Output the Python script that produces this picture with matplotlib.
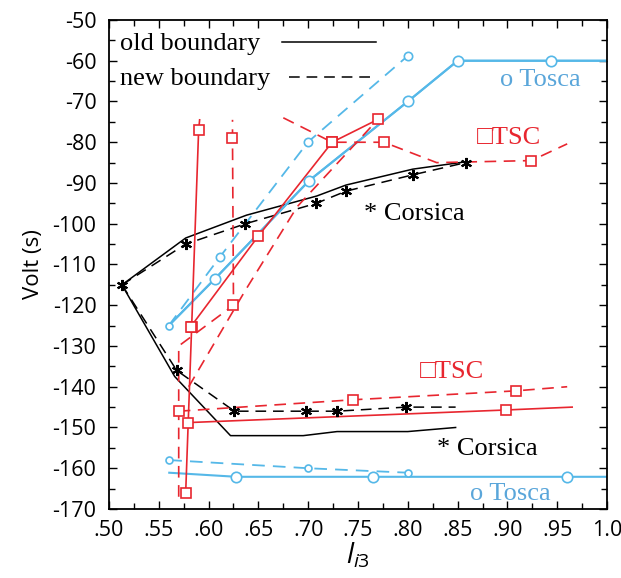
import matplotlib
matplotlib.use('Agg')
import matplotlib.pyplot as plt
from matplotlib.lines import Line2D
from matplotlib.ticker import MultipleLocator, FuncFormatter

plt.rcParams['font.family'] = ['Open Sans', 'DejaVu Sans']
plt.rcParams['axes.unicode_minus'] = False
plt.rcParams['mathtext.fontset'] = 'custom'
plt.rcParams['mathtext.it'] = 'Open Sans:italic'
plt.rcParams['mathtext.rm'] = 'Open Sans'

# ---- Corsica (black) ----
cor_up_old_x = [0.513, 0.577, 0.638, 0.7085, 0.738, 0.805, 0.858]
cor_up_old_y = [-115, -103.5, -97.9, -93.2, -90.5, -86.6, -84.8]
cor_up_new_x = [0.513, 0.577, 0.637, 0.708, 0.738, 0.805, 0.858]
cor_up_new_y = [-115, -105, -100, -95, -92, -88, -85]
cor_lo_old_x = [0.513, 0.566, 0.622, 0.695, 0.729, 0.80, 0.848]
cor_lo_old_y = [-115, -137.5, -152, -152, -151, -151, -150]
cor_lo_new_x = [0.513, 0.568, 0.626, 0.698, 0.729, 0.798, 0.848]
cor_lo_new_y = [-115, -136, -146, -146, -146, -145, -145]

# ---- Tosca (blue) ----
tos_up_old_x = [0.56, 0.606, 0.701, 0.80, 0.85, 0.944, 1.0]
tos_up_old_y = [-125, -113.6, -89.4, -70, -60, -60, -60]
tos_up_new_x = [0.56, 0.6115, 0.700, 0.80]
tos_up_new_y = [-125, -108.1, -79.9, -58.8]
tos_lo_old_x = [0.5605, 0.628, 0.765, 0.9595, 1.0]
tos_lo_old_y = [-161.1, -162.1, -162.1, -162.1, -162.1]
tos_lo_new_x = [0.5605, 0.700, 0.8005]
tos_lo_new_y = [-158, -160, -161.1]

# ---- TSC (red) ----
tsc_side_old_x = [0.591, 0.590, 0.583, 0.577]
tsc_side_old_y = [-74.5, -77, -125.3, -166]
tsc_up_old_x = [0.582, 0.650, 0.724, 0.770]
tsc_up_old_y = [-125.3, -103, -80, -74.4]
tsc_lo_old_x = [0.579, 0.899, 0.965]
tsc_lo_old_y = [-148.8, -145.7, -145]
tsc_side_new_x = [0.570, 0.570, 0.625, 0.624, 0.624]
tsc_side_new_y = [-167, -130, -120, -79, -74.5]
tsc_up_new_x = [0.675, 0.724, 0.776, 0.829, 0.924, 0.96]
tsc_up_new_y = [-74, -80, -80, -85, -84.5, -80.4]
tsc_up_new2_x = [0.580, 0.637, 0.689, 0.770]
tsc_up_new2_y = [-140, -116.3, -95.8, -74.4]
tsc_lo_new_x = [0.570, 0.745, 0.909, 0.96]
tsc_lo_new_y = [-146, -143.2, -141, -140]

BLUE = '#55b8e8'
BLUE_TXT = '#5aa6da'
RED = '#e8262f'
DASH = (0, (7, 4.5))
SERIF = ['Liberation Serif', 'DejaVu Sans']

fig = plt.figure(figsize=(6.21, 5.78), dpi=100)
ax = fig.add_axes([0.1755, 0.1194, 0.802, 0.846])


def draw(x, y, color, ls, lw, idx=(), marker=None, ms=7, mew=1.2, fill='white'):
    ax.plot(x, y, color=color, ls=ls, lw=lw, zorder=2)
    if marker is not None and len(idx):
        ax.plot([x[i] for i in idx], [y[i] for i in idx], ls='none', marker=marker,
                ms=ms, mfc=fill, mec=color, mew=mew, zorder=3)


# black corsica
draw(cor_up_old_x, cor_up_old_y, 'black', '-', 1.1)
draw(cor_lo_old_x, cor_lo_old_y, 'black', '-', 1.1)
draw(cor_up_new_x, cor_up_new_y, 'black', DASH, 1.1, range(7), (6, 2, 0), 8, 1.5, 'black')
draw(cor_lo_new_x, cor_lo_new_y, 'black', DASH, 1.1, range(1, 6), (6, 2, 0), 8, 1.5, 'black')

# blue tosca
draw(tos_up_old_x, tos_up_old_y, BLUE, '-', 1.5, [1, 2, 3, 4, 5], 'o', 7.5)
draw(tos_up_old_x, tos_up_old_y, BLUE, '-', 1.5, [0], 'o', 5)
draw(tos_up_new_x, tos_up_new_y, BLUE, DASH, 1.3, [1, 2, 3], 'o', 6)
draw(tos_lo_old_x, tos_lo_old_y, BLUE, '-', 1.5, [1, 2, 3], 'o', 7.5)
draw(tos_lo_new_x, tos_lo_new_y, BLUE, DASH, 1.3, [0, 1, 2], 'o', 5)

# red tsc
draw(tsc_side_old_x, tsc_side_old_y, RED, '-', 1.2, [1, 2, 3], 's', 7)
draw(tsc_up_old_x, tsc_up_old_y, RED, '-', 1.2, [0, 1, 2, 3], 's', 7)
draw(tsc_lo_old_x, tsc_lo_old_y, RED, '-', 1.2, [0, 1], 's', 7)
draw(tsc_side_new_x, tsc_side_new_y, RED, DASH, 1.2, [2, 3], 's', 7)
draw(tsc_up_new_x, tsc_up_new_y, RED, DASH, 1.2, [1, 2, 4], 's', 7)
draw(tsc_up_new2_x, tsc_up_new2_y, RED, DASH, 1.2)
draw(tsc_lo_new_x, tsc_lo_new_y, RED, DASH, 1.2, [0, 1, 2], 's', 7)

# labels on the curves
ax.text(0.8926, -64.7, 'o Tosca', color=BLUE_TXT, fontsize=19, family=SERIF, va='center')
ax.text(0.8625, -166.2, 'o Tosca', color=BLUE_TXT, fontsize=19, family=SERIF, va='center')
ax.text(0.869, -79, '\u25a1TSC', color=RED, fontsize=19, family=SERIF, va='center')
ax.text(0.812, -136.3, '\u25a1TSC', color=RED, fontsize=19, family=SERIF, va='center')
ax.text(0.756, -97.5, '* Corsica', color='black', fontsize=19, family=SERIF, va='center')
ax.text(0.829, -155.2, '* Corsica', color='black', fontsize=19, family=SERIF, va='center')

# legend, drawn by hand: text first, line sample after
ax.text(0.022, 0.939, 'old boundary', transform=ax.transAxes, fontsize=19,
        family=SERIF, va='baseline')
ax.text(0.022, 0.867, 'new boundary', transform=ax.transAxes, fontsize=19,
        family=SERIF, va='baseline')
ax.add_line(Line2D([0.347, 0.536], [0.954, 0.954], transform=ax.transAxes,
                   color='black', lw=1.1))
ax.add_line(Line2D([0.361, 0.528], [0.883, 0.883], transform=ax.transAxes,
                   color='black', lw=1.1, ls=DASH))

ax.set_xlim(0.5, 1.0)
ax.set_ylim(-170, -50)
ax.xaxis.set_major_locator(MultipleLocator(0.05))
ax.xaxis.set_minor_locator(MultipleLocator(0.025))
ax.yaxis.set_major_locator(MultipleLocator(10))
ax.yaxis.set_minor_locator(MultipleLocator(5))
ax.xaxis.set_major_formatter(FuncFormatter(lambda v, p: '1.0' if abs(v - 1) < 1e-6 else f'{v:.2f}'[1:]))
ax.yaxis.set_major_formatter(FuncFormatter(lambda v, p: f'{int(round(v))}'))
ax.tick_params(which='both', direction='in', top=True, right=True, width=1, labelsize=15.5)
ax.tick_params(which='major', length=6)
ax.tick_params(which='minor', length=4)
ax.tick_params(axis='y', pad=9)
ax.tick_params(axis='x', pad=8)
for s in ax.spines.values():
    s.set_linewidth(1.3)

ax.set_ylabel('Volt (s)', fontsize=16, labelpad=6)
ax.set_xlabel('$l_{i3}$', fontsize=20, labelpad=0)

fig.savefig('out.png', dpi=100)
